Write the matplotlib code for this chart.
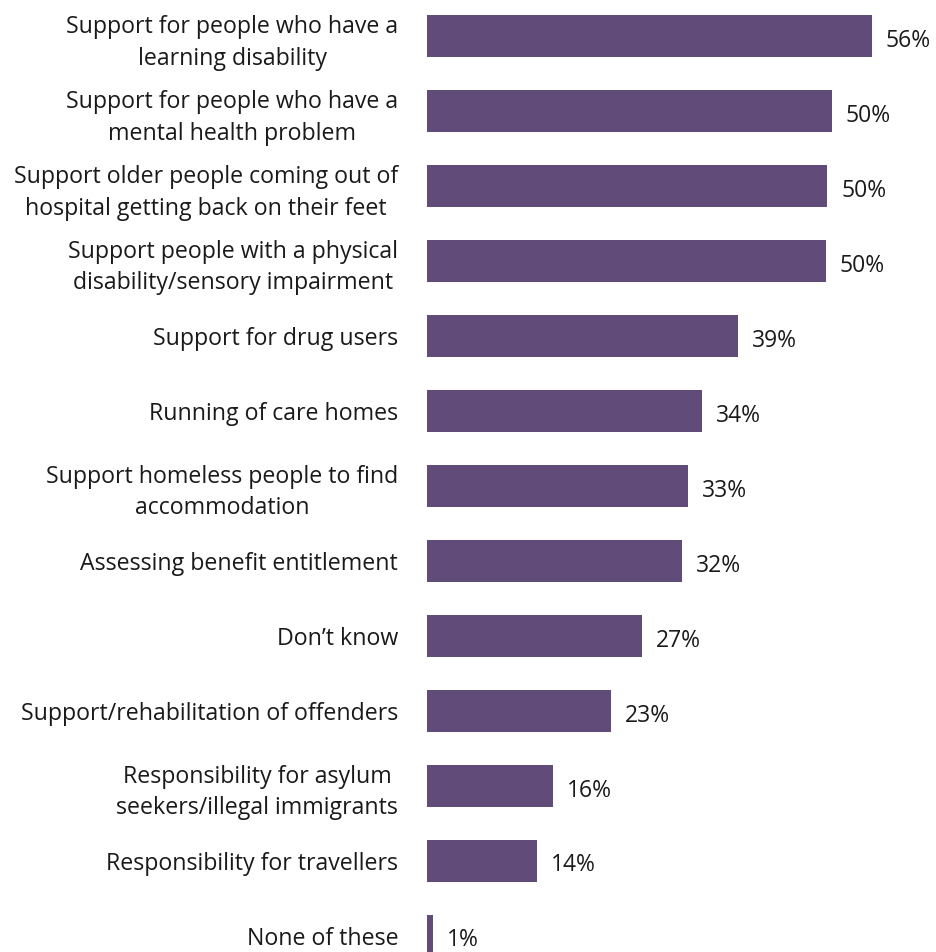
import matplotlib.pyplot as plt

categories = [
    "Support for people who have a\nlearning disability",
    "Support for people who have a\nmental health problem",
    "Support older people coming out of\nhospital getting back on their feet",
    "Support people with a physical\ndisability/sensory impairment",
    "Support for drug users",
    "Running of care homes",
    "Support homeless people to find\naccommodation",
    "Assessing benefit entitlement",
    "Don\u2019t know",
    "Support/rehabilitation of offenders",
    "Responsibility for asylum\nseekers/illegal immigrants",
    "Responsibility for travellers",
    "None of these",
]
# bar lengths (the labels are rounded)
values = [55.9, 50.9, 50.3, 50.1, 39.1, 34.6, 32.8, 32.0, 27.0, 23.1, 15.8, 13.8, 0.75]
labels = ["56%", "50%", "50%", "50%", "39%", "34%", "33%", "32%", "27%", "23%", "16%", "14%", "1%"]

bar_color = "#614B79"
text_color = "#1a1a1a"
plt.rcParams['font.family'] = ['Open Sans', 'DejaVu Sans']

fig = plt.figure(figsize=(9.36, 9.52), dpi=100)
# axes reaches below the figure edge, the last bar is cut off like in the original
ax = fig.add_axes([427.3 / 936, -21 / 952, 516.75 / 936, 974 / 952])

pos = list(range(len(values)))
ax.barh(pos, values, height=0.56, color=bar_color)
ax.set_ylim(len(values) - 0.5, -0.5)
ax.set_xlim(0, 65)

for p, v, lab in zip(pos, values, labels):
    ax.annotate(lab, (v, p), xytext=(10, -3.5), textcoords="offset points",
                va="center", ha="left", fontsize=16.5, color=text_color)

ax.set_yticks(pos)
ax.set_yticklabels(categories, fontsize=16.7, color=text_color,
                   multialignment="center", linespacing=1.4)
ax.tick_params(axis="y", length=0, pad=21)
ax.set_xticks([])
for s in ax.spines.values():
    s.set_visible(False)

fig.savefig("out.png", dpi=100)
